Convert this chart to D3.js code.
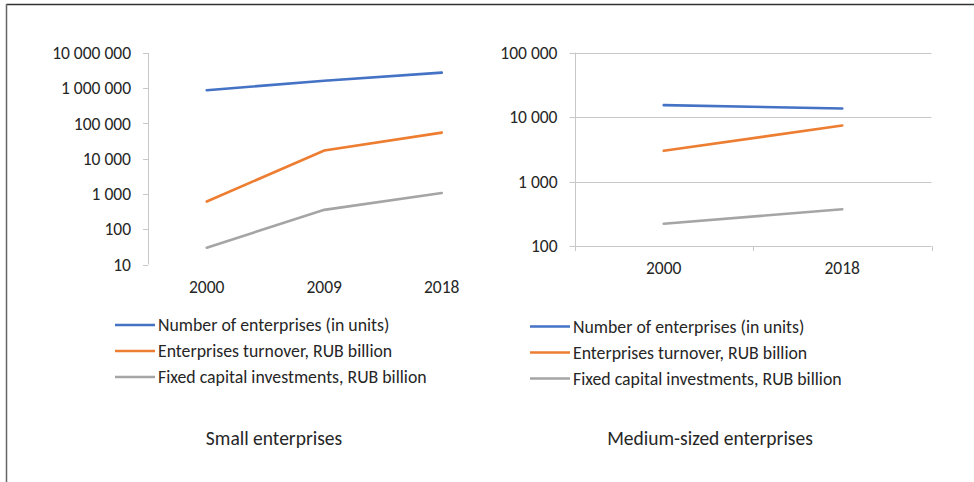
<!DOCTYPE html>
<html>
<head>
<meta charset="utf-8">
<script src="https://cdn.jsdelivr.net/npm/d3@7"></script>
<style>
  body { margin: 0; background: #fff; }
  svg text { font-family: Carlito, Calibri, Lato, sans-serif; fill: #262626; }
</style>
</head>
<body>
<div id="chart"></div>
<script>
// series names and colours
const seriesNames = ["Number of enterprises (in units)", "Enterprises turnover, RUB billion", "Fixed capital investments, RUB billion"]
const seriesColors = ["#4472C4", "#ED7D31", "#A5A5A5"]

// small enterprises
const smallYears = ["2000", "2009", "2018"]
const smallEnterprises = [880000, 1640000, 2770000]
const smallTurnover = [610, 17200, 55000]
const smallInvest = [30, 355, 1070]
const smallTicks = [10, 100, 1000, 10000, 100000, 1000000, 10000000]

// medium-sized enterprises
const mediumYears = ["2000", "2018"]
const mediumEnterprises = [15350, 13640]
const mediumTurnover = [3000, 7430]
const mediumInvest = [222, 371]
const mediumTicks = [100, 1000, 10000, 100000]

const width = 974, height = 482
const fmt = v => d3.format(",")(v).replace(/,/g, " ")

const svg = d3.select("#chart").append("svg")
  .attr("width", width).attr("height", height)

// outer frame (top and left only)
svg.append("line").attr("x1", 6.5).attr("x2", 974).attr("y1", 4.5).attr("y2", 4.5)
  .attr("stroke", "#333").attr("stroke-width", 1.5)
svg.append("line").attr("x1", 6.5).attr("x2", 6.5).attr("y1", 4).attr("y2", height)
  .attr("stroke", "#666").attr("stroke-width", 1.5)

function panel(opts) {
  const g = svg.append("g")
  const x = d3.scaleBand().domain(opts.years).range(opts.xRange)
  const y = d3.scaleLog().domain(opts.yDomain).range(opts.yRange)

  if (opts.grid) {
    g.append("g").selectAll("line").data(opts.ticks).join("line")
      .attr("x1", opts.xRange[0] - 5).attr("x2", opts.xRange[1])
      .attr("y1", d => Math.round(y(d)) + 0.5).attr("y2", d => Math.round(y(d)) + 0.5)
      .attr("stroke", "#c8c8c8")
    // category ticks on the bottom
    const bounds = opts.years.map(d => x(d)).concat([opts.xRange[1]])
    g.append("g").selectAll("line").data(bounds).join("line")
      .attr("x1", d => Math.round(d) + 0.5).attr("x2", d => Math.round(d) + 0.5)
      .attr("y1", opts.yRange[0]).attr("y2", opts.yRange[0] + 5)
      .attr("stroke", "#c8c8c8")
  } else {
    g.append("g").selectAll("line").data(opts.ticks).join("line")
      .attr("x1", opts.xRange[0] - 5).attr("x2", opts.xRange[0])
      .attr("y1", d => Math.round(y(d)) + 0.5).attr("y2", d => Math.round(y(d)) + 0.5)
      .attr("stroke", "#c8c8c8")
  }
  // value axis line
  g.append("line")
    .attr("x1", Math.round(opts.xRange[0]) + 0.5).attr("x2", Math.round(opts.xRange[0]) + 0.5)
    .attr("y1", opts.yRange[1]).attr("y2", opts.yRange[0] + (opts.grid ? 5 : 0))
    .attr("stroke", "#c8c8c8")

  // tick labels
  g.append("g").selectAll("text").data(opts.ticks).join("text")
    .attr("x", opts.xRange[0] - 17).attr("y", d => y(d)).attr("dy", "0.35em")
    .attr("text-anchor", "end").attr("font-size", 17.5)
    .text(fmt)
  g.append("g").selectAll("text").data(opts.years).join("text")
    .attr("x", d => x(d) + x.bandwidth() / 2).attr("y", opts.yRange[0] + 28)
    .attr("text-anchor", "middle").attr("font-size", 17.5)
    .text(d => d)

  // lines
  const line = d3.line().x((d, i) => x(opts.years[i]) + x.bandwidth() / 2).y(d => y(d))
  opts.series.forEach((s, i) => {
    g.append("path").datum(s).attr("d", line)
      .attr("fill", "none").attr("stroke", seriesColors[i]).attr("stroke-width", 2.6)
      .attr("stroke-linecap", "round")
  })

  // legend
  seriesNames.forEach((name, i) => {
    const ly = opts.legendY + i * 26
    g.append("line").attr("x1", opts.legendX).attr("x2", opts.legendX + 40)
      .attr("y1", ly).attr("y2", ly)
      .attr("stroke", seriesColors[i]).attr("stroke-width", 2.6)
    g.append("text").attr("x", opts.legendX + 43).attr("y", ly).attr("dy", "0.35em")
      .attr("font-size", 17.8).text(name)
  })

  g.append("text").attr("x", opts.titleX).attr("y", 445)
    .attr("text-anchor", "middle").attr("font-size", 19.5).text(opts.title)
}

panel({
  years: smallYears,
  series: [smallEnterprises, smallTurnover, smallInvest],
  ticks: smallTicks,
  xRange: [148, 500.5],
  yDomain: [10, 10000000],
  yRange: [264.5, 53],
  grid: false,
  legendX: 115, legendY: 325,
  titleX: 274, title: "Small enterprises"
})

panel({
  years: mediumYears,
  series: [mediumEnterprises, mediumTurnover, mediumInvest],
  ticks: mediumTicks,
  xRange: [574.5, 931.5],
  yDomain: [100, 100000],
  yRange: [246, 52.7],
  grid: true,
  legendX: 530, legendY: 326.5,
  titleX: 710, title: "Medium-sized enterprises"
})
</script>
</body>
</html>
